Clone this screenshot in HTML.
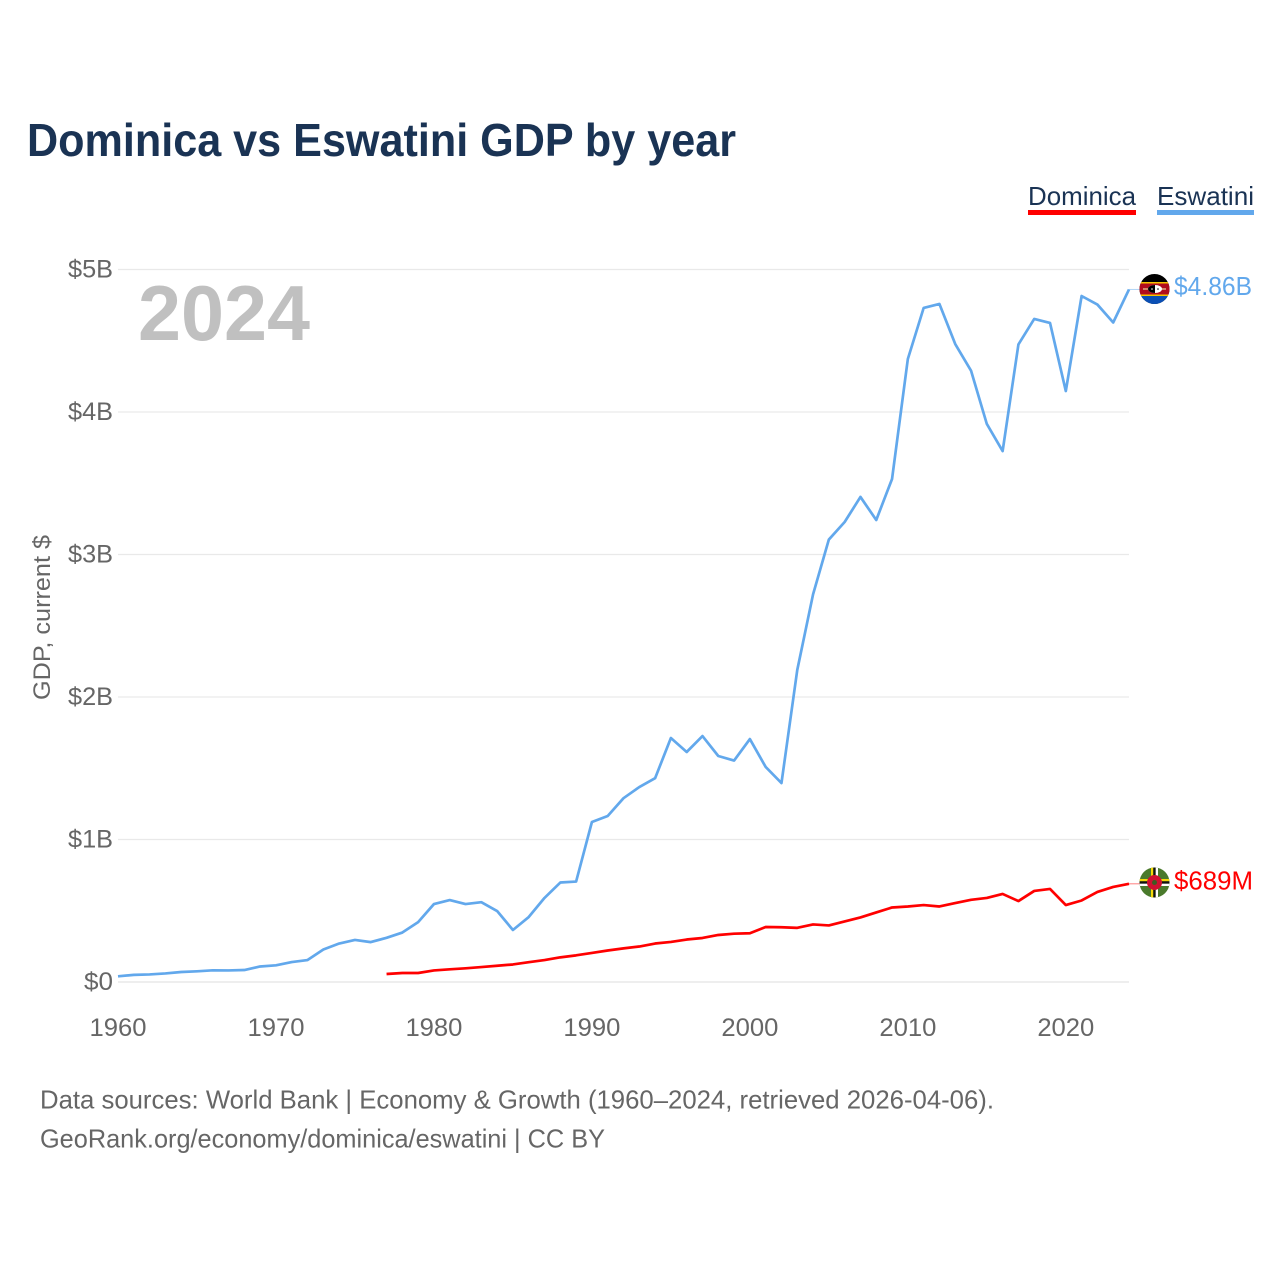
<!DOCTYPE html>
<html lang="en">
<head>
<meta charset="utf-8">
<title>Dominica vs Eswatini GDP by year</title>
<style>
html,body{margin:0;padding:0;background:#fff;width:1280px;height:1280px;overflow:hidden}
svg{display:block}
text{font-family:"Liberation Sans",sans-serif}
</style>
</head>
<body>
<svg id="chart" width="1280" height="1280" viewBox="0 0 1280 1280" xmlns="http://www.w3.org/2000/svg">
  <defs>
    <clipPath id="flag-clip-e"><circle cx="1154.5" cy="289" r="15"/></clipPath>
    <clipPath id="flag-clip-d"><circle cx="1154.5" cy="882.5" r="15"/></clipPath>
  </defs>
  <rect width="1280" height="1280" fill="#fff"/>
  <text x="27" y="156" font-size="46" font-weight="bold" fill="#1a3354" textLength="709" lengthAdjust="spacingAndGlyphs">Dominica vs Eswatini GDP by year</text>

  <g>
    <text x="1028" y="205" font-size="26" fill="#1a3354" textLength="108" lengthAdjust="spacingAndGlyphs">Dominica</text>
    <rect x="1028" y="210" width="108" height="5" fill="#ff0000"/>
  </g>
  <g>
    <text x="1157" y="205" font-size="26" fill="#1a3354" textLength="97" lengthAdjust="spacingAndGlyphs">Eswatini</text>
    <rect x="1157" y="210" width="97" height="5" fill="#62a8ec"/>
  </g>

  <g id="grid"></g>
  <g id="yticks"></g>
  <g id="xticks"></g>

  <text x="138" y="340" font-size="78" font-weight="bold" fill="#c0c0c0" textLength="172" lengthAdjust="spacingAndGlyphs">2024</text>
  <text transform="translate(50,700) rotate(-90)" x="0" y="0" font-size="24" fill="#666666" textLength="165" lengthAdjust="spacingAndGlyphs">GDP, current $</text>

  <path id="line-eswatini" fill="none" stroke="#62a8ec" stroke-width="2.7" stroke-linejoin="round"></path>
  <path id="line-dominica" fill="none" stroke="#ff0000" stroke-width="2.7" stroke-linejoin="round"></path>

  <line id="leader-eswatini" x2="1140" stroke="#62a8ec" stroke-width="1" opacity="0.5"></line>
  <line id="leader-dominica" x2="1140" stroke="#ff0000" stroke-width="1" opacity="0.5"></line>

  <g clip-path="url(#flag-clip-e)">
    <rect x="1139" y="273" width="31" height="32" fill="#000"/>
    <rect x="1139" y="282" width="31" height="1.500" fill="#f5c400"/>
    <rect x="1139" y="283.500" width="31" height="11" fill="#b10c1c"/>
    <rect x="1139" y="294.500" width="31" height="1.500" fill="#f5c400"/>
    <rect x="1139" y="296" width="31" height="9" fill="#0a4fb5"/>
    <rect x="1143" y="288.400" width="23" height="1.200" fill="#e8d8a0"/>
    <ellipse cx="1155" cy="289" rx="7" ry="4" fill="#fff"/>
    <path d="M1148 289a7 4 0 0 1 7-4v8a7 4 0 0 1-7-4z" fill="#000"/>
    <circle cx="1152" cy="289" r="0.800" fill="#fff"/>
    <circle cx="1158" cy="289" r="0.800" fill="#000"/>
  </g>
  <g clip-path="url(#flag-clip-d)">
    <rect x="1139" y="867" width="31" height="31" fill="#4a7a2c"/>
    <rect x="1151" y="867" width="2.300" height="31" fill="#f5d90a"/>
    <rect x="1153.300" y="867" width="2.400" height="31" fill="#111"/>
    <rect x="1155.700" y="867" width="2.300" height="31" fill="#fff"/>
    <rect x="1139" y="879" width="31" height="2.300" fill="#f5d90a"/>
    <rect x="1139" y="881.300" width="31" height="2.400" fill="#111"/>
    <rect x="1139" y="883.700" width="31" height="2.300" fill="#fff"/>
    <circle cx="1154.500" cy="882.500" r="7.500" fill="#cf1030"/>
    <circle cx="1154.500" cy="882.500" r="2.500" fill="#3f5a22"/>
  </g>

  <text x="1174" y="295" font-size="26" fill="#62a8ec" textLength="78" lengthAdjust="spacingAndGlyphs">$4.86B</text>
  <text x="1174" y="889.500" font-size="26" fill="#ff0000" textLength="79" lengthAdjust="spacingAndGlyphs">$689M</text>

  <text x="40" y="1108.500" font-size="26" fill="#666666" textLength="954" lengthAdjust="spacingAndGlyphs">Data sources: World Bank | Economy &amp; Growth (1960–2024, retrieved 2026-04-06).</text>
  <text x="40" y="1147.500" font-size="26" fill="#666666" textLength="565" lengthAdjust="spacingAndGlyphs">GeoRank.org/economy/dominica/eswatini | CC BY</text>
</svg>
<script>
const eswatiniStartYear = 1960;
const eswatiniValues = [0.04,0.05,0.053,0.06,0.07,0.075,0.082,0.081,0.084,0.109,0.117,0.14,0.154,0.228,0.27,0.295,0.28,0.31,0.347,0.42,0.547,0.575,0.547,0.56,0.498,0.365,0.456,0.59,0.698,0.705,1.123,1.165,1.29,1.368,1.43,1.712,1.614,1.726,1.586,1.554,1.705,1.509,1.396,2.19,2.72,3.105,3.228,3.404,3.242,3.53,4.372,4.73,4.758,4.477,4.29,3.916,3.726,4.474,4.653,4.625,4.147,4.814,4.754,4.628,4.86];
const dominicaStartYear = 1977;
const dominicaValues = [0.056,0.063,0.063,0.081,0.089,0.096,0.105,0.114,0.123,0.139,0.154,0.173,0.187,0.204,0.221,0.236,0.249,0.27,0.281,0.298,0.309,0.33,0.339,0.342,0.386,0.384,0.38,0.404,0.397,0.425,0.453,0.488,0.523,0.53,0.54,0.53,0.554,0.577,0.59,0.618,0.568,0.639,0.653,0.54,0.572,0.632,0.667,0.689];
const yTickValues = [0,1,2,3,4,5];
const yTickLabels = ["$0","$1B","$2B","$3B","$4B","$5B"];
const xTickValues = [1960,1970,1980,1990,2000,2010,2020];

const SVGNS = "http://www.w3.org/2000/svg";
function xScale(year){ return 118 + (year - 1960) * (1129 - 118) / 64; }
function yScale(value){ return 982 - value * (982 - 269.5) / 5; }
function linePath(startYear, values){
  return values.map(function(v, i){
    return (i ? "L" : "M") + xScale(startYear + i).toFixed(2) + " " + yScale(v).toFixed(2);
  }).join("");
}

const gridGroup = document.getElementById("grid");
const yGroup = document.getElementById("yticks");
const xGroup = document.getElementById("xticks");

yTickValues.forEach(function(v, i){
  const ln = document.createElementNS(SVGNS, "line");
  ln.setAttribute("x1", 118);
  ln.setAttribute("x2", 1129);
  ln.setAttribute("y1", yScale(v));
  ln.setAttribute("y2", yScale(v));
  ln.setAttribute("stroke", "#e9e9e9");
  ln.setAttribute("stroke-width", v === 0 ? 1.6 : 1.2);
  
  
  gridGroup.appendChild(ln);

  const t = document.createElementNS(SVGNS, "text");
  t.setAttribute("x", 113);
  t.setAttribute("y", yScale(v) + 8);
  t.setAttribute("text-anchor", "end");
  t.setAttribute("font-size", 25);
  t.setAttribute("fill", "#666666");
  t.setAttribute("textLength", yTickLabels[i].length === 2 ? 29 : 45);
  t.setAttribute("lengthAdjust", "spacingAndGlyphs");
  t.textContent = yTickLabels[i];
  
  
  yGroup.appendChild(t);
});

xTickValues.forEach(function(year){
  const t = document.createElementNS(SVGNS, "text");
  t.setAttribute("x", xScale(year));
  t.setAttribute("y", 1036);
  t.setAttribute("text-anchor", "middle");
  t.setAttribute("font-size", 25);
  t.setAttribute("fill", "#666666");
  t.setAttribute("textLength", 57);
  t.setAttribute("lengthAdjust", "spacingAndGlyphs");
  t.textContent = year;
  
  
  xGroup.appendChild(t);
});

document.getElementById("line-eswatini").setAttribute("d", linePath(eswatiniStartYear, eswatiniValues));
document.getElementById("line-dominica").setAttribute("d", linePath(dominicaStartYear, dominicaValues));

const lastE = eswatiniValues[eswatiniValues.length - 1];
const lastD = dominicaValues[dominicaValues.length - 1];
const leaderE = document.getElementById("leader-eswatini");
leaderE.setAttribute("x1", xScale(eswatiniStartYear + eswatiniValues.length - 1));
leaderE.setAttribute("y1", yScale(lastE));
leaderE.setAttribute("y2", yScale(lastE));
const leaderD = document.getElementById("leader-dominica");
leaderD.setAttribute("x1", xScale(dominicaStartYear + dominicaValues.length - 1));
leaderD.setAttribute("y1", yScale(lastD));
leaderD.setAttribute("y2", yScale(lastD));
</script>
</body>
</html>
